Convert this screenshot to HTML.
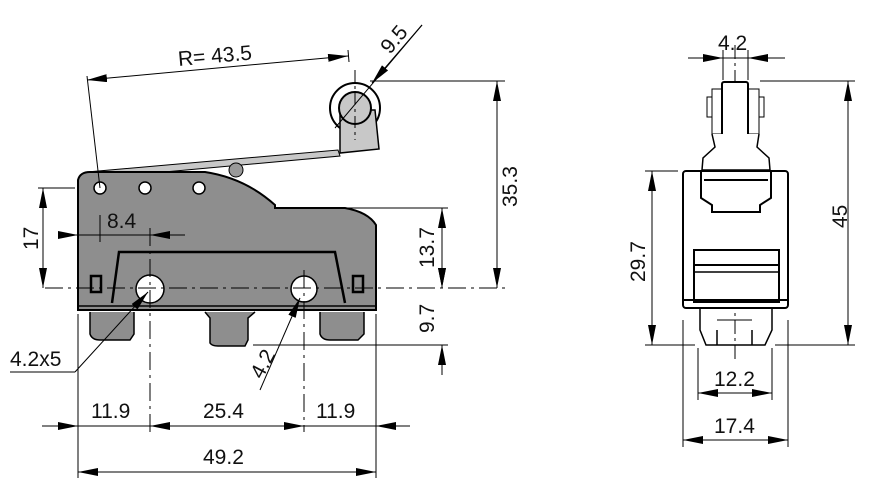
<!DOCTYPE html>
<html><head><style>html,body{margin:0;padding:0;background:#fff}svg{display:block}text{font-family:"Liberation Sans",sans-serif;font-size:21px;fill:#111}</style></head><body>
<svg width="880" height="483" viewBox="0 0 880 483" xmlns="http://www.w3.org/2000/svg">
<defs>
<marker id="a" viewBox="0 0 20 8" refX="20" refY="4" markerWidth="20" markerHeight="8" markerUnits="userSpaceOnUse" orient="auto-start-reverse"><path d="M0,0L20,4L0,8z" fill="#000"/></marker>
</defs>
<g stroke="#000" stroke-width="1" fill="none">
<!-- lever & roller -->
<path d="M87,172 L338,150 L340,156 L120,176 Z" fill="#c8c8c8"/>
<circle cx="236" cy="170" r="7" fill="#999"/>
<circle cx="355" cy="108" r="25" stroke-width="2" fill="#fff"/>
<path d="M340,110 L340,153 L379,149 L375,110 Z" fill="#c8c8c8" stroke-width="1.5"/>
<circle cx="355" cy="108" r="16" fill="#c8c8c8" stroke-width="2"/>
<!-- body -->
<path d="M78,310 L78,180 Q80,172 90,172 L205,172 Q245,178 275,205 L275,208 L345,208 Q368,212 376,225 L376,310 Z" fill="#8e8e8e" stroke-width="2"/>
<line x1="78" y1="306" x2="376" y2="306" stroke-width="1.5"/>
<path d="M112,303 L119,252 L335,252 L345,303" stroke-width="2.5"/>
<circle cx="100" cy="188" r="6" fill="#fff" stroke-width="1.5"/>
<circle cx="145" cy="188" r="6" fill="#fff" stroke-width="1.5"/>
<circle cx="199" cy="188" r="6" fill="#fff" stroke-width="1.5"/>
<circle cx="150" cy="289" r="14" fill="#fff" stroke-width="1.5"/>
<circle cx="304" cy="289" r="13" fill="#fff" stroke-width="1.5"/>
<rect x="91" y="276" width="10" height="16" stroke-width="2.5"/>
<rect x="353" y="276" width="10" height="16" stroke-width="2.5"/>
<path d="M90,312 L90,334 Q92,340 100,340 L130,340 L134,334 L134,312" fill="#8e8e8e" stroke-width="1.5"/>
<path d="M205,312 L210,318 L210,343 Q212,346 218,346 L245,346 L248,340 L248,318 L255,312" fill="#8e8e8e" stroke-width="1.5"/>
<path d="M320,312 L320,334 Q322,340 330,340 L358,340 L364,334 L364,312" fill="#8e8e8e" stroke-width="1.5"/>
<!-- centerlines -->
<line x1="45" y1="288" x2="505" y2="288" stroke-dasharray="18,5,3,5"/>
<line x1="150" y1="228" x2="150" y2="432" stroke-dasharray="18,5,3,5"/>
<line x1="304" y1="270" x2="304" y2="432" stroke-dasharray="18,5,3,5"/>
<line x1="355" y1="70" x2="355" y2="140" stroke-dasharray="12,4,3,4"/>
<!-- dims left view -->
<line x1="87" y1="80" x2="348" y2="56" marker-start="url(#a)" marker-end="url(#a)"/>
<line x1="87" y1="76" x2="100" y2="188"/><line x1="348" y1="50" x2="349" y2="62"/>
<line x1="422" y1="25" x2="335" y2="128"/>
<line x1="422" y1="25" x2="372" y2="83" marker-end="url(#a)"/>
<line x1="370" y1="81" x2="505" y2="81"/>
<line x1="497" y1="81" x2="497" y2="288" marker-start="url(#a)" marker-end="url(#a)"/>
<line x1="290" y1="208" x2="448" y2="208"/>
<line x1="442" y1="208" x2="442" y2="288" marker-start="url(#a)" marker-end="url(#a)"/>
<line x1="253" y1="345" x2="448" y2="345"/>
<line x1="442" y1="260" x2="442" y2="288" marker-end="url(#a)"/>
<line x1="442" y1="375" x2="442" y2="345" marker-end="url(#a)"/>
<line x1="38" y1="188" x2="75" y2="188"/>
<line x1="43" y1="188" x2="43" y2="288" marker-start="url(#a)" marker-end="url(#a)"/>
<line x1="63" y1="235" x2="78" y2="235" marker-end="url(#a)"/>
<line x1="185" y1="235" x2="150" y2="235" marker-end="url(#a)"/>
<line x1="78" y1="235" x2="150" y2="235"/>
<line x1="100" y1="215" x2="100" y2="242"/>
<line x1="10" y1="372" x2="75" y2="372"/>
<line x1="75" y1="372" x2="148" y2="292" marker-end="url(#a)"/>
<line x1="260" y1="390" x2="300" y2="298" marker-end="url(#a)"/>
<line x1="78" y1="314" x2="78" y2="478"/><line x1="376" y1="314" x2="376" y2="478"/>
<line x1="42" y1="426" x2="410" y2="426"/>
<line x1="42" y1="426" x2="78" y2="426" marker-end="url(#a)"/>
<line x1="150" y1="426" x2="175" y2="426" marker-start="url(#a)"/>
<line x1="280" y1="426" x2="304" y2="426" marker-end="url(#a)"/>
<line x1="410" y1="426" x2="376" y2="426" marker-end="url(#a)"/>
<line x1="78" y1="472" x2="376" y2="472" marker-start="url(#a)" marker-end="url(#a)"/>
<!-- right view -->
<line x1="735" y1="45" x2="735" y2="360" stroke-dasharray="14,4,3,4"/>
<line x1="723" y1="50" x2="723" y2="80"/><line x1="748" y1="50" x2="748" y2="80"/>
<line x1="688" y1="58" x2="723" y2="58" marker-end="url(#a)"/>
<line x1="785" y1="58" x2="748" y2="58" marker-end="url(#a)"/>
<line x1="723" y1="58" x2="748" y2="58"/>
<rect x="712" y="89" width="47" height="45" fill="#fff"/>
<rect x="722" y="82" width="26" height="56" rx="2" fill="#fff" stroke-width="2"/>
<rect x="707" y="97" width="5" height="20"/><rect x="759" y="97" width="5" height="20"/>
<path d="M712,134 L715,147 L703,158 L702,170 L770,170 L769,158 L757,147 L759,134" fill="#fff" stroke-width="1.5"/>
<rect x="683" y="171" width="105" height="137" rx="3" fill="#fff" stroke-width="2"/>
<path d="M701,172 L701,198 L712,205 L712,212 L760,212 L760,205 L771,198 L771,172" stroke-width="2"/>
<line x1="704" y1="180" x2="768" y2="180" stroke-width="2"/>
<rect x="694" y="250" width="85" height="52" stroke-width="2"/>
<line x1="694" y1="265" x2="779" y2="265" stroke-width="2"/><line x1="694" y1="272" x2="779" y2="272" stroke-width="1.5"/>
<line x1="683" y1="300" x2="788" y2="300" stroke-width="2"/>
<path d="M700,308 L700,330 L706,345 L717,345 L717,330 L717,345 L752,345 L752,330 L752,345 L765,345 L772,330 L772,308" stroke-width="1.5"/>
<line x1="717" y1="320" x2="752" y2="320"/>
<line x1="760" y1="81" x2="855" y2="81"/>
<line x1="848" y1="81" x2="848" y2="345" marker-start="url(#a)" marker-end="url(#a)"/>
<line x1="775" y1="345" x2="855" y2="345"/>
<line x1="645" y1="171" x2="678" y2="171"/><line x1="645" y1="345" x2="695" y2="345"/>
<line x1="652" y1="171" x2="652" y2="345" marker-start="url(#a)" marker-end="url(#a)"/>
<line x1="698" y1="348" x2="698" y2="400"/><line x1="772" y1="348" x2="772" y2="400"/>
<line x1="698" y1="393" x2="772" y2="393" marker-start="url(#a)" marker-end="url(#a)"/>
<line x1="683" y1="320" x2="683" y2="447"/><line x1="788" y1="320" x2="788" y2="447"/>
<line x1="683" y1="440" x2="788" y2="440" marker-start="url(#a)" marker-end="url(#a)"/>
</g>
<text x="178" y="63" transform="rotate(-5 212 58)">R= 43.5</text>
<text x="0" y="0" transform="translate(390,55) rotate(-50)">9.5</text>
<text x="0" y="0" transform="translate(517,207) rotate(-90)">35.3</text>
<text x="0" y="0" transform="translate(434,268) rotate(-90)">13.7</text>
<text x="0" y="0" transform="translate(434,333) rotate(-90)">9.7</text>
<text x="0" y="0" transform="translate(38,250) rotate(-90)">17</text>
<text x="107" y="228">8.4</text>
<text x="10" y="366">4.2x5</text>
<text x="0" y="0" transform="translate(262,380) rotate(-62)">4.2</text>
<text x="91" y="418">11.9</text>
<text x="203" y="418">25.4</text>
<text x="316" y="418">11.9</text>
<text x="203" y="464">49.2</text>
<text x="718" y="50">4.2</text>
<text x="0" y="0" transform="translate(847,228) rotate(-90)">45</text>
<text x="0" y="0" transform="translate(645,282) rotate(-90)">29.7</text>
<text x="714" y="386">12.2</text>
<text x="714" y="433">17.4</text>
</svg>
</body></html>
